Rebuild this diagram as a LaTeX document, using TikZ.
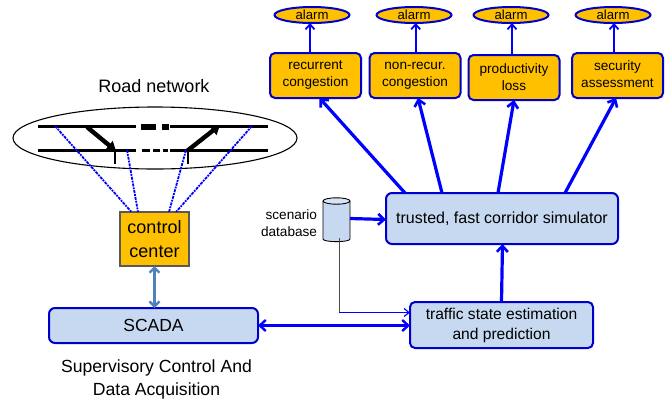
\documentclass[tikz,border=0pt]{standalone}
\usepackage{fontspec}
\setmainfont{Liberation Sans}
\usetikzlibrary{shapes.geometric,arrows.meta}
\definecolor{orangefill}{HTML}{FFC000}
\definecolor{bluefill}{HTML}{C6D9F1}
\definecolor{edgeblue}{HTML}{0000CC}
\definecolor{arrowblue}{HTML}{0000FF}
\definecolor{steel}{HTML}{4F81BD}
\tikzset{
  x=1pt,y=-1pt,
  every node/.style={inner sep=0pt,outer sep=0pt},
  obox/.style={draw=edgeblue,line width=2pt,fill=orangefill,rounded corners=5pt,minimum width=91pt,minimum height=45pt,align=center,font=\fontsize{13.6}{17}\selectfont},
  alarmnode/.style={draw=edgeblue,line width=2pt,fill=orangefill,ellipse,minimum width=75pt,minimum height=16pt,font=\fontsize{13.2}{15}\selectfont},
  bbox/.style={draw=edgeblue,line width=2pt,fill=bluefill,rounded corners=6pt,align=center},
  alarmarrow/.style={draw=arrowblue,line width=2pt,-{Straight Barb[length=5pt,width=9pt,line width=1.8pt]}},
  bigarrow/.style={draw=arrowblue,line width=3.2pt,-{Straight Barb[length=6pt,width=11pt,line width=2.6pt]}},
  road/.style={line width=3.6pt,black},
  roadthin/.style={line width=2.4pt,black},
  dots/.style={draw=arrowblue,line width=1.8pt,densely dash dot},
  ramp/.style={line width=4.4pt,black,-{Triangle[length=9pt,width=11pt]}},
}
\begin{document}
\begin{tikzpicture}
\useasboundingbox (0,0) rectangle (667,400);
% alarms
\node[alarmnode] (a1) at (312,15) {alarm};
\node[alarmnode] (a2) at (414,15) {alarm};
\node[alarmnode] (a3) at (511,15) {alarm};
\node[alarmnode] (a4) at (613,15) {alarm};
% orange boxes
\node[obox] (b1) at (315.5,75.5) {recurrent\\congestion};
\node[obox] (b2) at (415,75.5) {non-recur.\\congestion};
\node[obox] (b3) at (514,77.5) {productivity\\loss};
\node[obox] (b4) at (617.5,75.5) {security\\assessment\vphantom{g}};
\draw[alarmarrow] ([xshift=-5.5pt]b1.north) -- ([xshift=-2pt]a1.south);
\draw[alarmarrow] ([xshift=.7pt]b2.north) -- ([xshift=1.7pt]a2.south);
\draw[alarmarrow] ([xshift=-2pt]b3.north) -- ([xshift=1pt]a3.south);
\draw[alarmarrow] ([xshift=-3.5pt]b4.north) -- ([xshift=1pt]a4.south);
% main boxes
\node[bbox,minimum width=232pt,minimum height=51pt,font=\fontsize{16}{18}\selectfont] (sim) at (502,218.5) {trusted, fast corridor simulator};
\node[bbox,minimum width=183pt,minimum height=46pt,rounded corners=5pt,font=\fontsize{15.6}{20}\selectfont] (tse) at (501.5,325) {traffic state estimation\\and prediction};
\node[bbox,minimum width=209pt,minimum height=35pt,font=\fontsize{17.5}{18}\selectfont] (scada) at (153.5,325.5) {SCADA};
\node[draw=black!65,line width=1.2pt,fill=orangefill,minimum width=69pt,minimum height=54pt,align=center,font=\fontsize{18}{24}\selectfont] (cc) at (154.5,239) {control\\center};
% cylinder
\node[minimum width=27pt,minimum height=40pt] (db) at (336.5,218) {};
\draw[black,line width=.9pt,fill=bluefill] ([yshift=-3pt]db.north west) -- ([yshift=-1pt]db.south west) .. controls ([yshift=-4.5pt]db.south west) and ([yshift=-4.5pt]db.south east) .. ([yshift=-1pt]db.south east) -- ([yshift=-3pt]db.north east);
\draw[black,line width=.9pt,fill=bluefill!70!white] ([yshift=-3pt]db.north) ellipse[x radius=13.5pt,y radius=3.2pt];
\node[align=right,anchor=east,font=\fontsize{13.6}{17}\selectfont] (dblabel) at (317,223) {scenario\\database};
% labels
\node[font=\fontsize{18}{19}\selectfont] (rn) at (154,86) {Road network};
\node[align=center,font=\fontsize{17.6}{23}\selectfont] (sv) at (156.5,379.5) {Supervisory Control And\\Data Acquisition};
% connectors
\draw[bigarrow] ([xshift=-97pt]sim.north) -- ([xshift=4pt]b1.south);
\draw[bigarrow] ([xshift=-60pt]sim.north) -- ([xshift=3pt]b2.south);
\draw[bigarrow] ([xshift=-4pt]sim.north) -- (b3.south);
\draw[bigarrow] ([xshift=63pt]sim.north) -- ([xshift=-1.5pt]b4.south);
\draw[bigarrow] (tse.north) -- ([xshift=.5pt]sim.south);
\draw[bigarrow] ([yshift=-.5pt]db.east) -- ([yshift=-1pt]sim.west);
\draw[draw=arrowblue,line width=2.8pt,{Straight Barb[length=6pt,width=11pt,line width=2.4pt]}-{Straight Barb[length=6pt,width=11pt,line width=2.4pt]}] (scada.east) -- (scada.east -| tse.west);
\coordinate (bend) at (339,312.5);
\draw[black!70,line width=1pt] (bend |- db.south) -- (bend);
\draw[arrowblue,line width=1.2pt,-{Straight Barb[length=5pt,width=8pt,line width=1.2pt]}] (bend) -- (bend -| tse.west);
\draw[steel,line width=3pt,{Straight Barb[length=5pt,width=10pt,line width=2.4pt]}-{Straight Barb[length=5pt,width=10pt,line width=2.4pt]}] (cc.south) -- (cc.south |- scada.north);
% road network
\node[draw=black,line width=1.1pt,ellipse,minimum width=284pt,minimum height=62pt] (net) at (155,138) {};
\coordinate (t1) at (38,126.5); \coordinate (t2) at (136,126.5);
\coordinate (t3) at (141,126.5); \coordinate (t4) at (156,126.5);
\coordinate (t5) at (162,126.5); \coordinate (t6) at (169,126.5);
\coordinate (t7) at (170,126.5); \coordinate (t8) at (268,126.5);
\draw[road] (t1) -- (t2) (t7) -- (t8);
\draw[line width=6pt,black] (t3) -- (t4) (t5) -- (t6);
\coordinate (l1) at (38,150.5); \coordinate (l2) at (136,150.5);
\coordinate (l3) at (142,150.5); \coordinate (l4) at (150,150.5);
\coordinate (l5) at (153,150.5); \coordinate (l6) at (160,150.5);
\coordinate (l7) at (163,150.5); \coordinate (l8) at (168,150.5);
\coordinate (l9) at (170,150.5); \coordinate (l10) at (268,150.5);
\draw[roadthin] (l1) -- (l2) (l9) -- (l10);
\draw[line width=3.4pt,black] (l3) -- (l4) (l5) -- (l6) (l7) -- (l8);
\coordinate (r1a) at (87,127); \coordinate (r1b) at (116,151);
\coordinate (r2a) at (187,151); \coordinate (r2b) at (220,125);
\draw[ramp] (r1a) -- (r1b);
\draw[ramp] (r2a) -- (r2b);
\coordinate (s1a) at (115,150); \coordinate (s1b) at (115,164);
\coordinate (s2a) at (188,150); \coordinate (s2b) at (188,164);
\draw[black,line width=1.3pt] (s1a) -- (s1b) (s2a) -- (s2b);
\coordinate (d1) at (55,126); \coordinate (d2) at (127,150);
\coordinate (d3) at (186,150); \coordinate (d4) at (252,126);
\draw[dots] (d1) -- ([xshift=-23pt]cc.north);
\draw[dots] (d2) -- ([xshift=-16.5pt]cc.north);
\draw[dots] (d3) -- ([xshift=14.5pt]cc.north);
\draw[dots] (d4) -- ([xshift=21.5pt]cc.north);
\end{tikzpicture}
\end{document}
